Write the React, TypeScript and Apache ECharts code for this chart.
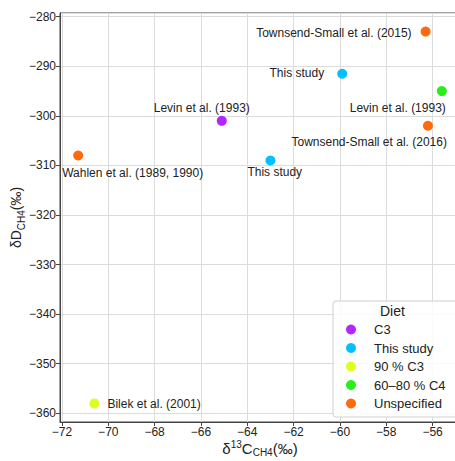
import React, { useEffect, useRef } from "react";
import * as echarts from "echarts";

const dietCategories = ["C3", "This study", "90 % C3", "60–80 % C4", "Unspecified"];
const dietColors = ["#b526ff", "#00c0ff", "#dcff1f", "#28ee1a", "#ff6a0d"];

const pointLabels = [
  "Wahlen et al. (1989, 1990)",
  "Bilek et al. (2001)",
  "Levin et al. (1993)",
  "This study",
  "This study",
  "Townsend-Small et al. (2015)",
  "Townsend-Small et al. (2016)",
  "Levin et al. (1993)",
];
const pointX = [-71.3, -70.6, -65.1, -63.0, -59.9, -56.3, -56.2, -55.6];
const pointY = [-308, -358, -301, -309, -291.5, -283, -302, -295];
const pointDiet = ["Unspecified", "90 % C3", "C3", "This study", "This study", "Unspecified", "Unspecified", "60–80 % C4"];

// label placement (style only): align, dx, dy
const labelPlacement: [string, number, number][] = [
  ["left", -16, 17],
  ["left", 13, 1],
  ["center", -20, -13],
  ["left", -23, 12],
  ["right", -18, -1],
  ["right", -14, 1],
  ["right", 19, 16],
  ["right", 4, 17],
];

const FONT = "Liberation Sans";

export default function App() {
  const ref = useRef<HTMLDivElement>(null);
  useEffect(() => {
    if (!ref.current) return;
    const chart = echarts.init(ref.current, undefined, { renderer: "svg" });

    const series = dietCategories.map((cat, ci) => ({
      type: "scatter",
      name: cat,
      symbol: "circle",
      symbolSize: 10,
      itemStyle: { color: dietColors[ci], opacity: 1 },
      data: pointX
        .map((x, i) => ({ i, x }))
        .filter((p) => pointDiet[p.i] === cat)
        .map(({ i, x }) => ({
          value: [x, pointY[i]],
          name: pointLabels[i],
          label: {
            show: true,
            position: "inside",
            formatter: "{b}",
            align: labelPlacement[i][0],
            verticalAlign: "middle",
            offset: [labelPlacement[i][1], labelPlacement[i][2]],
            color: "#222",
            fontSize: 12,
            fontFamily: FONT,
            textBorderWidth: 0,
          },
        })),
      z: 3,
    }));

    const xMinD = Math.min(...pointX), xMaxD = Math.max(...pointX);
    const yMinD = Math.min(...pointY), yMaxD = Math.max(...pointY);
    const xPad = (xMaxD - xMinD) * 0.05;
    const yPad = (yMaxD - yMinD) * 0.05;

    const minusFmt = (v: number) => (v < 0 ? "\u2212" + Math.abs(v) : String(v));

    chart.setOption({
      animation: false,
      backgroundColor: "#ffffff",
      textStyle: { fontFamily: FONT },
      grid: {
        left: 60,
        top: 13,
        bottom: 39,
        right: -5,
        show: true,
        borderColor: "#444",
        borderWidth: 1,
        containLabel: false,
        outerBoundsMode: "none",
      },
      xAxis: {
        type: "value",
        min: xMinD - xPad,
        max: xMaxD + xPad,
        minInterval: 2,
        maxInterval: 2,
        axisLine: { show: true, lineStyle: { color: "#444", width: 1 } },
        axisTick: { show: true, length: 4, inside: false, lineStyle: { color: "#444" } },
        axisLabel: {
          showMinLabel: false,
          showMaxLabel: false,
          color: "#222",
          fontSize: 12,
          fontFamily: FONT,
          margin: 4,
          formatter: minusFmt,
        },
        splitLine: { show: true, lineStyle: { color: "#dcdcdc", width: 1 } },
        name: "{d|δ}{sup|13}{d|C}{sub|CH4}{d|(‰)}",
        nameLocation: "middle",
        nameGap: 17,
        nameMoveOverlap: false,
        nameTextStyle: {
          rich: {
            d: { fontSize: 15, color: "#222", fontFamily: FONT, lineHeight: 18, verticalAlign: "middle" },
            sup: { fontSize: 10, color: "#222", fontFamily: FONT, lineHeight: 18, verticalAlign: "top" },
            sub: { fontSize: 10, color: "#222", fontFamily: FONT, lineHeight: 18, verticalAlign: "bottom" },
          },
        },
      },
      yAxis: {
        type: "value",
        min: yMinD - yPad,
        max: yMaxD + yPad,
        minInterval: 10,
        maxInterval: 10,
        axisLine: { show: true, lineStyle: { color: "#444", width: 1 } },
        axisTick: { show: true, length: 4, inside: false, lineStyle: { color: "#444" } },
        axisLabel: {
          showMinLabel: false,
          showMaxLabel: false,
          color: "#222",
          fontSize: 12,
          fontFamily: FONT,
          margin: 4,
          formatter: minusFmt,
        },
        splitLine: { show: true, lineStyle: { color: "#dcdcdc", width: 1 } },
        name: "{d|δD}{sub|CH4}{d|(‰)}",
        nameLocation: "middle",
        nameGap: 34,
        nameMoveOverlap: false,
        nameTextStyle: {
          rich: {
            d: { fontSize: 14, color: "#222", fontFamily: FONT, lineHeight: 20, verticalAlign: "middle" },
            sub: { fontSize: 10, color: "#222", fontFamily: FONT, lineHeight: 20, verticalAlign: "bottom" },
          },
        },
      },
      legend: {
        show: true,
        orient: "vertical",
        left: 333,
        top: 301,
        data: dietCategories,
        icon: "circle",
        itemWidth: 36,
        itemHeight: 10,
        itemGap: 5.5,
        padding: [22, 13, 7, 13],
        backgroundColor: "rgba(255,255,255,0.85)",
        borderColor: "#d0d0d0",
        borderWidth: 1,
        borderRadius: 3,
        textStyle: { color: "#222", fontSize: 13, fontFamily: FONT },
        selectedMode: false,
      },
      graphic: [
        {
          type: "text",
          z: 100,
          left: 393 - 13,
          top: 304,
          style: { text: "Diet", fontSize: 14, fontFamily: FONT, fill: "#222" },
        },
      ],
      series,
    });
    return () => chart.dispose();
  }, []);
  return (
    <div
      ref={ref}
      style={{ position: "fixed", left: 0, top: 0, width: 455, height: 461 }}
    />
  );
}
